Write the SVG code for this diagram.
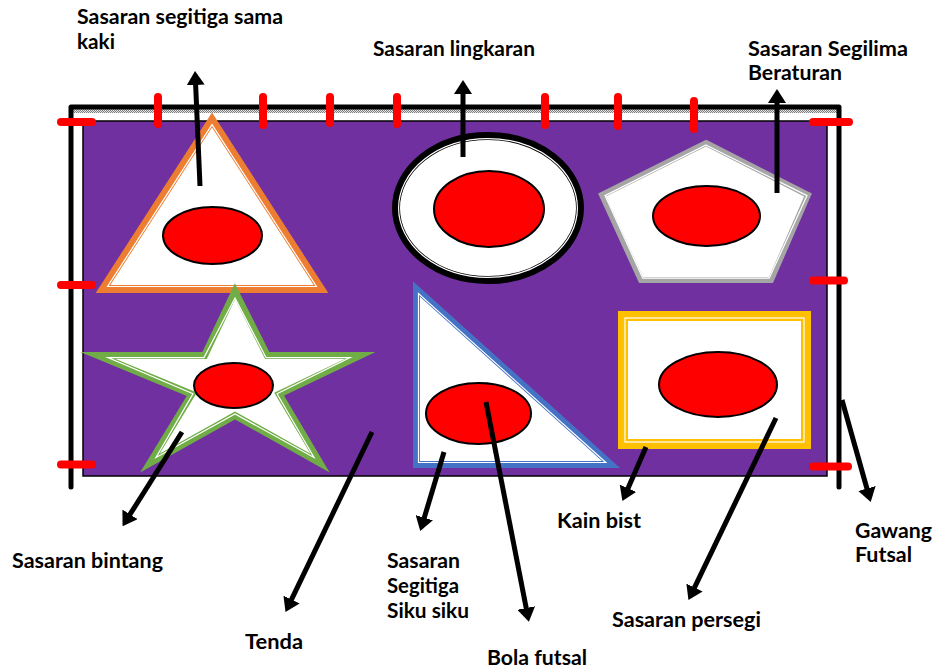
<svg xmlns="http://www.w3.org/2000/svg" width="936" height="669" viewBox="0 0 936 669">
<style>
.lbl{font-family:Lato,"Open Sans","Liberation Sans",sans-serif;font-weight:700;font-size:20px;fill:#000}
.conn{stroke:#000;stroke-width:5;fill:none;marker-end:url(#ah)}
.tick{stroke:#FF0000;stroke-width:8;stroke-linecap:round}
.post{stroke:#000;stroke-width:5;fill:none;stroke-linecap:round;stroke-linejoin:round}
.bull{fill:#FF0000;stroke:#000;stroke-width:2}
.wl{fill:none;stroke:#fff;stroke-width:1.2}
</style>
<defs>
<marker id="ah" viewBox="0 0 14 18" markerUnits="userSpaceOnUse" markerWidth="14" markerHeight="18" refX="1" refY="9" orient="auto">
<path d="M0,0 L14,9 L0,18 z" fill="#000"/>
</marker>
<pattern id="dots" width="2" height="2" patternUnits="userSpaceOnUse">
<rect width="2" height="2" fill="#e0e0e0"/>
<rect width="1" height="1" fill="#808080"/>
<rect x="1" y="1" width="1" height="1" fill="#808080"/>
</pattern>
</defs>
<rect width="936" height="669" fill="#fff"/>

<g id="tenda">
<rect x="83" y="121" width="744" height="355" fill="#7030A0" stroke="#000" stroke-width="1.5"/>
</g>

<g id="gawang">
<rect x="73" y="109" width="764" height="4" fill="url(#dots)"/>
<path class="post" d="M71,487 L71,107 L839,107 L839,487"/>
</g>

<g id="segitiga-sama-kaki">
<polygon points="212,120 103,289 321,289" fill="#fff" stroke="#ED7D31" stroke-width="8"/>
<polygon class="wl" points="212,124.6 107.6,286.5 316.4,286.5"/>
<ellipse class="bull" cx="212.5" cy="235.5" rx="49.5" ry="28.5"/>
</g>

<g id="lingkaran">
<ellipse cx="488" cy="208" rx="92" ry="72" fill="#fff" stroke="#000" stroke-width="8"/>
<ellipse class="wl" cx="488" cy="208" rx="89.4" ry="69.4"/>
<ellipse class="bull" cx="489" cy="209" rx="55" ry="38"/>
</g>

<g id="segilima">
<polygon points="706,143 808,195 771,280 641,280 602,195" fill="#fff" stroke="#A5A5A5" stroke-width="6"/>
<polygon class="wl" points="706,145 807,195.6 769.2,278.2 642.8,278.2 605,195.6"/>
<ellipse class="bull" cx="706.5" cy="216" rx="53.5" ry="30"/>
</g>

<g id="bintang">
<polygon points="235,291.2 267.2,355.6 360,355.6 279.2,394.2 320,463 235,415.4 150,463 191.8,394.2 98,355.6 204.6,355.6" fill="#fff" stroke="#70AD47" stroke-width="7" stroke-miterlimit="10"/>
<polygon class="wl" points="235,298 266,357.6 350,357.6 277,393.7 314,457.5 235,413.9 156,457.5 193,393.7 108,357.6 204,357.6" stroke-miterlimit="10"/>
<ellipse class="bull" cx="233.5" cy="385.5" rx="39.5" ry="22.5"/>
</g>

<g id="segitiga-siku">
<polygon points="416.5,289 416.5,464.5 611,464.5" fill="#fff" stroke="#4472C4" stroke-width="7"/>
<polygon class="wl" points="418.5,293.5 418.5,462.5 605.8,462.5"/>
<ellipse class="bull" cx="478.5" cy="413.5" rx="52.5" ry="30.5"/>
</g>

<g id="persegi">
<rect x="623" y="316" width="183" height="128" fill="#fff" stroke="#FFC000" stroke-width="10"/>
<rect class="wl" x="625" y="318" width="179" height="124"/>
<ellipse class="bull" cx="718" cy="384.5" rx="59" ry="32.5"/>
</g>

<g id="kain-ticks">
<line class="tick" x1="158" y1="97" x2="158" y2="124"/>
<line class="tick" x1="263" y1="97" x2="263" y2="125"/>
<line class="tick" x1="330" y1="97" x2="330" y2="123"/>
<line class="tick" x1="397" y1="97" x2="397" y2="124"/>
<line class="tick" x1="545" y1="97" x2="545" y2="125"/>
<line class="tick" x1="618" y1="97" x2="618" y2="126"/>
<line class="tick" x1="694" y1="101" x2="694" y2="129"/>
<line class="tick" x1="61" y1="122" x2="92" y2="122"/>
<line class="tick" x1="61" y1="285" x2="92" y2="285"/>
<line class="tick" x1="61" y1="464.5" x2="92" y2="464.5"/>
<line class="tick" x1="813" y1="122" x2="849" y2="122"/>
<line class="tick" x1="813" y1="280.5" x2="844" y2="280.5"/>
<line class="tick" x1="813" y1="466.5" x2="848" y2="466.5"/>
</g>

<g id="connectors">
<line class="conn" x1="200" y1="186" x2="195.6" y2="84"/>
<line class="conn" x1="463" y1="157" x2="463" y2="93"/>
<line class="conn" x1="777" y1="193" x2="777" y2="102"/>
<line class="conn" x1="182" y1="432" x2="129.5" y2="515.2"/>
<line class="conn" x1="372" y1="432" x2="291.1" y2="600.4"/>
<line class="conn" x1="444" y1="452" x2="424" y2="518.6"/>
<line class="conn" x1="486" y1="402" x2="526.4" y2="609"/>
<line class="conn" x1="646" y1="447" x2="627.6" y2="489.2"/>
<line class="conn" x1="776" y1="418" x2="694.1" y2="588.4"/>
<line class="conn" x1="842" y1="400" x2="867.2" y2="489.5"/>
</g>

<g id="label-segitiga-sama-kaki">
<text class="lbl" x="77" y="24" textLength="206" lengthAdjust="spacingAndGlyphs">Sasaran segitiga sama</text>
<text class="lbl" x="77" y="49" textLength="38" lengthAdjust="spacingAndGlyphs">kaki</text>
</g>
<g id="label-lingkaran">
<text class="lbl" x="373" y="56" textLength="162" lengthAdjust="spacingAndGlyphs">Sasaran lingkaran</text>
</g>
<g id="label-segilima">
<text class="lbl" x="748" y="56" textLength="160" lengthAdjust="spacingAndGlyphs">Sasaran Segilima</text>
<text class="lbl" x="748" y="80" textLength="94" lengthAdjust="spacingAndGlyphs">Beraturan</text>
</g>
<g id="label-bintang">
<text class="lbl" x="12" y="568" textLength="151" lengthAdjust="spacingAndGlyphs">Sasaran bintang</text>
</g>
<g id="label-tenda">
<text class="lbl" x="245" y="649" textLength="58" lengthAdjust="spacingAndGlyphs">Tenda</text>
</g>
<g id="label-segitiga-siku">
<text class="lbl" x="387" y="568" textLength="73" lengthAdjust="spacingAndGlyphs">Sasaran</text>
<text class="lbl" x="387" y="593" textLength="72" lengthAdjust="spacingAndGlyphs">Segitiga</text>
<text class="lbl" x="387" y="618" textLength="82" lengthAdjust="spacingAndGlyphs">Siku siku</text>
</g>
<g id="label-bola">
<text class="lbl" x="487" y="665" textLength="100" lengthAdjust="spacingAndGlyphs">Bola futsal</text>
</g>
<g id="label-kain">
<text class="lbl" x="557" y="528" textLength="84" lengthAdjust="spacingAndGlyphs">Kain bist</text>
</g>
<g id="label-persegi">
<text class="lbl" x="612" y="627" textLength="149" lengthAdjust="spacingAndGlyphs">Sasaran persegi</text>
</g>
<g id="label-gawang">
<text class="lbl" x="855" y="538" textLength="77" lengthAdjust="spacingAndGlyphs">Gawang</text>
<text class="lbl" x="855" y="562" textLength="57" lengthAdjust="spacingAndGlyphs">Futsal</text>
</g>
</svg>
